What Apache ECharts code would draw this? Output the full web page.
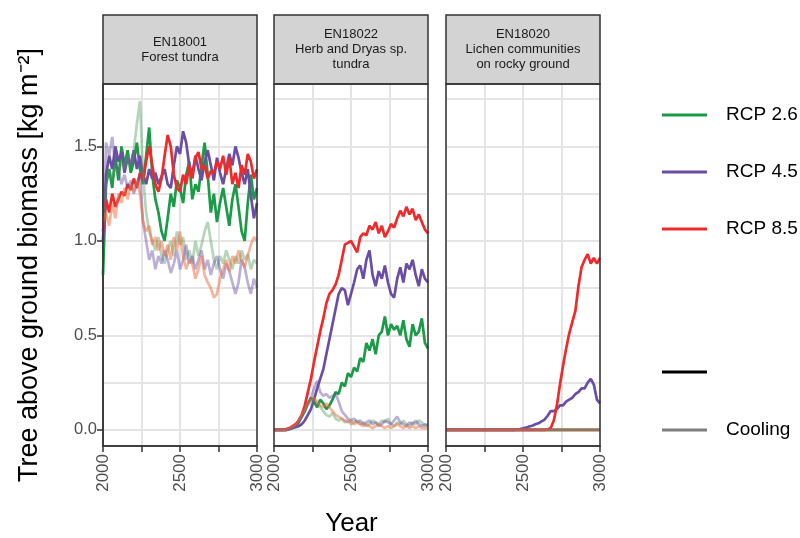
<!DOCTYPE html>
<html>
<head>
<meta charset="utf-8">
<script src="https://cdn.jsdelivr.net/npm/echarts@6/dist/echarts.min.js"></script>
<style>
  html, body { margin: 0; padding: 0; background: #ffffff; }
  #chart { width: 800px; height: 538px; }
</style>
</head>
<body>
<div id="chart"></div>
<script>
// Simulation years (20-year steps)
const years = [2000, 2020, 2040, 2060, 2080, 2100, 2120, 2140, 2160, 2180,
  2200, 2220, 2240, 2260, 2280, 2300, 2320, 2340, 2360, 2380,
  2400, 2420, 2440, 2460, 2480, 2500, 2520, 2540, 2560, 2580,
  2600, 2620, 2640, 2660, 2680, 2700, 2720, 2740, 2760, 2780,
  2800, 2820, 2840, 2860, 2880, 2900, 2920, 2940, 2960, 2980, 3000];

const scenarios = ['RCP 2.6', 'RCP 4.5', 'RCP 8.5'];
const linetypeLabels = ['', 'Cooling'];
const xTickLabels = [2000, 2500, 3000];
const yTickLabels = [0, 0.5, 1.0, 1.5];
const yGridValues = [0, 0.25, 0.5, 0.75, 1.0, 1.25, 1.5, 1.75];

const panelCodes = ['EN18001', 'EN18022', 'EN18020'];
const panelNames = ['Forest tundra', 'Herb and Dryas sp.\ntundra', 'Lichen communities\non rocky ground'];

// EN18001 Forest tundra
const forestRcp26 = [0.82, 1.30, 1.38, 1.28, 1.45, 1.32, 1.50, 1.40, 1.48, 1.36,
  1.42, 1.52, 1.38, 1.30, 1.45, 1.60, 1.35, 1.22, 1.15, 1.05,
  1.00, 1.12, 1.25, 1.18, 1.32, 1.28, 1.20, 1.35, 1.42, 1.22,
  1.30, 1.26, 1.40, 1.52, 1.35, 1.15, 1.25, 1.10, 1.20, 1.28,
  1.18, 1.08, 1.22, 1.30, 1.18, 1.05, 1.00, 1.20, 1.35, 1.22, 1.28];
const forestRcp45 = [1.00, 1.35, 1.45, 1.38, 1.50, 1.42, 1.47, 1.36, 1.44, 1.40,
  1.48, 1.38, 1.45, 1.35, 1.30, 1.38, 1.33, 1.36, 1.30, 1.34,
  1.38, 1.30, 1.28, 1.40, 1.50, 1.46, 1.58, 1.52, 1.40, 1.35,
  1.45, 1.38, 1.32, 1.42, 1.48, 1.40, 1.32, 1.44, 1.36, 1.30,
  1.38, 1.46, 1.40, 1.50, 1.44, 1.36, 1.30, 1.38, 1.24, 1.12, 1.20];
const forestRcp85 = [1.05, 1.22, 1.15, 1.25, 1.18, 1.22, 1.26, 1.24, 1.30, 1.27,
  1.33, 1.28, 1.36, 1.32, 1.42, 1.50, 1.40, 1.30, 1.26, 1.33,
  1.45, 1.56, 1.50, 1.35, 1.28, 1.26, 1.35, 1.30, 1.40, 1.33,
  1.44, 1.47, 1.38, 1.40, 1.33, 1.37, 1.36, 1.42, 1.38, 1.45,
  1.35, 1.44, 1.30, 1.36, 1.28, 1.40, 1.35, 1.46, 1.42, 1.33, 1.38];
const forestCool26 = [1.10, 1.30, 1.38, 1.32, 1.40, 1.35, 1.42, 1.38, 1.45, 1.40,
  1.48, 1.62, 1.74, 1.35, 1.15, 1.05, 1.00, 0.95, 1.02, 0.92,
  0.88, 0.95, 1.00, 0.92, 1.05, 0.98, 1.02, 0.90, 0.95, 0.88,
  1.00, 0.92, 0.98, 1.05, 1.10, 1.00, 0.90, 0.85, 0.92, 0.88,
  0.95, 0.90, 0.85, 0.92, 0.88, 0.95, 0.90, 0.93, 0.85, 0.90, 0.88];
const forestCool45 = [1.00, 1.52, 1.45, 1.55, 1.40, 1.38, 1.30, 1.35, 1.28, 1.32,
  1.25, 1.30, 1.35, 1.10, 1.00, 0.90, 0.95, 0.85, 0.92, 0.88,
  0.95, 0.90, 0.83, 0.88, 0.95, 0.85, 0.90, 0.98, 0.88, 0.92,
  0.85, 0.90, 0.95, 0.85, 0.90, 0.82, 0.88, 0.92, 0.85, 0.80,
  0.88, 0.84, 0.78, 0.72, 0.78, 0.90, 0.86, 0.78, 0.72, 0.80, 0.75];
const forestCool85 = [1.10, 1.15, 1.08, 1.20, 1.12, 1.25, 1.20, 1.28, 1.22, 1.30,
  1.26, 1.32, 1.25, 1.10, 1.05, 1.08, 0.98, 1.02, 0.95, 1.00,
  0.92, 0.98, 0.90, 1.02, 0.95, 1.05, 0.92, 0.85, 0.90, 0.88,
  0.80, 0.85, 0.92, 0.82, 0.78, 0.75, 0.70, 0.72, 0.80, 0.85,
  0.90, 0.84, 0.92, 0.88, 0.95, 0.90, 0.86, 0.92, 0.98, 1.02, 1.00];

// EN18022 Herb and Dryas sp. tundra
const herbRcp26 = [0, 0, 0, 0, 0, 0.005, 0.01, 0.02, 0.04, 0.07,
  0.10, 0.14, 0.17, 0.15, 0.12, 0.16, 0.14, 0.11, 0.13, 0.16,
  0.20, 0.19, 0.25, 0.23, 0.30, 0.28, 0.33, 0.31, 0.38, 0.36,
  0.46, 0.42, 0.48, 0.40, 0.50, 0.52, 0.60, 0.50, 0.56, 0.53,
  0.55, 0.50, 0.58, 0.48, 0.44, 0.56, 0.50, 0.52, 0.59, 0.46, 0.43];
const herbRcp45 = [0, 0, 0, 0, 0, 0.005, 0.01, 0.015, 0.02, 0.03,
  0.05, 0.08, 0.11, 0.16, 0.22, 0.27, 0.32, 0.40, 0.48, 0.56,
  0.64, 0.72, 0.75, 0.74, 0.66, 0.72, 0.78, 0.85, 0.87, 0.80,
  0.90, 0.95, 0.82, 0.76, 0.84, 0.80, 0.87, 0.78, 0.72, 0.70,
  0.80, 0.86, 0.78, 0.88, 0.85, 0.90, 0.82, 0.76, 0.85, 0.80, 0.78];
const herbRcp85 = [0, 0, 0, 0, 0.005, 0.01, 0.02, 0.03, 0.05, 0.08,
  0.13, 0.20, 0.27, 0.36, 0.44, 0.52, 0.59, 0.67, 0.72, 0.74,
  0.77, 0.82, 0.90, 0.98, 0.99, 1.00, 0.97, 0.94, 1.02, 1.04,
  1.03, 1.08, 1.06, 1.10, 1.04, 1.08, 1.02, 1.05, 1.09, 1.07,
  1.12, 1.16, 1.13, 1.18, 1.14, 1.17, 1.11, 1.14, 1.10, 1.06, 1.04];
const herbCool26 = [0, 0, 0, 0, 0, 0.005, 0.01, 0.02, 0.04, 0.07,
  0.10, 0.13, 0.15, 0.16, 0.14, 0.12, 0.10, 0.08, 0.07, 0.09,
  0.06, 0.05, 0.06, 0.04, 0.05, 0.03, 0.04, 0.05, 0.03, 0.04,
  0.02, 0.03, 0.05, 0.04, 0.03, 0.05, 0.04, 0.06, 0.03, 0.02,
  0.04, 0.03, 0.05, 0.03, 0.02, 0.04, 0.03, 0.05, 0.04, 0.02, 0.03];
const herbCool45 = [0, 0, 0, 0, 0, 0.005, 0.01, 0.02, 0.04, 0.07,
  0.11, 0.14, 0.17, 0.22, 0.26, 0.20, 0.18, 0.19, 0.17, 0.18,
  0.19, 0.15, 0.10, 0.08, 0.06, 0.05, 0.06, 0.04, 0.05, 0.03,
  0.04, 0.05, 0.03, 0.04, 0.02, 0.03, 0.05, 0.04, 0.03, 0.05,
  0.07, 0.04, 0.03, 0.02, 0.04, 0.03, 0.05, 0.03, 0.02, 0.03, 0.02];
const herbCool85 = [0, 0, 0, 0, 0, 0.01, 0.02, 0.03, 0.05, 0.08,
  0.11, 0.14, 0.16, 0.17, 0.15, 0.13, 0.12, 0.14, 0.12, 0.10,
  0.08, 0.07, 0.06, 0.05, 0.04, 0.05, 0.03, 0.04, 0.03, 0.02,
  0.03, 0.02, 0.01, 0.02, 0.03, 0.02, 0.01, 0.02, 0.01, 0.02,
  0.03, 0.02, 0.01, 0.02, 0.01, 0.02, 0.01, 0.02, 0.01, 0.01, 0.01];

// EN18020 Lichen communities on rocky ground
const lichenRcp26 = [0, 0, 0, 0, 0, 0, 0, 0, 0, 0,
  0, 0, 0, 0, 0, 0, 0, 0, 0, 0,
  0, 0, 0, 0, 0, 0, 0, 0, 0, 0,
  0, 0, 0, 0, 0, 0, 0, 0, 0, 0,
  0, 0, 0, 0, 0, 0, 0, 0, 0, 0, 0];
const lichenRcp45 = [0, 0, 0, 0, 0, 0, 0, 0, 0, 0,
  0, 0, 0, 0, 0, 0, 0, 0, 0, 0,
  0, 0, 0, 0.003, 0.005, 0.008, 0.012, 0.018, 0.022, 0.03,
  0.035, 0.045, 0.055, 0.075, 0.10, 0.10, 0.11, 0.13, 0.13, 0.15,
  0.16, 0.17, 0.19, 0.20, 0.22, 0.22, 0.25, 0.27, 0.24, 0.16, 0.14];
const lichenRcp85 = [0, 0, 0, 0, 0, 0, 0, 0, 0, 0,
  0, 0, 0, 0, 0, 0, 0, 0, 0, 0,
  0, 0, 0, 0, 0, 0, 0, 0, 0, 0,
  0, 0, 0, 0.002, 0.01, 0.05, 0.13, 0.24, 0.34, 0.43,
  0.51, 0.57, 0.63, 0.76, 0.86, 0.90, 0.93, 0.88, 0.91, 0.88, 0.91];
const lichenCool26 = [0, 0, 0, 0, 0, 0, 0, 0, 0, 0,
  0, 0, 0, 0, 0, 0, 0, 0, 0, 0,
  0, 0, 0, 0, 0, 0, 0, 0, 0, 0,
  0, 0, 0, 0, 0, 0, 0, 0, 0, 0,
  0, 0, 0, 0, 0, 0, 0, 0, 0, 0, 0];
const lichenCool45 = [0, 0, 0, 0, 0, 0, 0, 0, 0, 0,
  0, 0, 0, 0, 0, 0, 0, 0, 0, 0,
  0, 0, 0, 0, 0, 0, 0, 0, 0, 0,
  0, 0, 0, 0, 0, 0, 0, 0, 0, 0,
  0, 0, 0, 0, 0, 0, 0, 0, 0, 0, 0];
const lichenCool85 = [0, 0, 0, 0, 0, 0, 0, 0, 0, 0,
  0, 0, 0, 0, 0, 0, 0, 0, 0, 0,
  0, 0, 0, 0, 0, 0, 0, 0, 0, 0,
  0, 0, 0, 0, 0, 0, 0, 0, 0, 0,
  0, 0, 0, 0, 0, 0, 0, 0, 0, 0, 0];

const panelSeries = [
  { warm: [forestRcp26, forestRcp45, forestRcp85], cool: [forestCool26, forestCool45, forestCool85] },
  { warm: [herbRcp26, herbRcp45, herbRcp85], cool: [herbCool26, herbCool45, herbCool85] },
  { warm: [lichenRcp26, lichenRcp45, lichenRcp85], cool: [lichenCool26, lichenCool45, lichenCool85] }
];

// Styling
const FONT = 'Liberation Sans, Arial, Helvetica, sans-serif';
const scenarioColors = ['#1b9a47', '#6a4ea3', '#ee2b2b'];
const coolColors = ['#4f9a5c', '#6a4ea3', '#ef6a3c'];
const coolOpacity = [0.42, 0.45, 0.5];
const Y_MIN = -0.085, Y_MAX = 1.83;
const panelLeft = [103, 274, 446];
const PANEL_W = 154, PANEL_TOP = 84, PANEL_H = 362;
const STRIP_TOP = 15, STRIP_H = 69;

const grids = [], xAxes = [], yAxes = [], series = [], graphics = [];

panelLeft.forEach((left, p) => {
  grids.push({ left: left, top: PANEL_TOP, width: PANEL_W, height: PANEL_H, show: false });
  xAxes.push({
    type: 'value', gridIndex: p, min: 2000, max: 3000, interval: 250, position: 'bottom',
    axisLine: { show: true, onZero: false, lineStyle: { color: '#333333', width: 1.5 } },
    axisTick: { show: true, inside: false, length: 6, lineStyle: { color: '#333333', width: 1.5 } },
    axisLabel: {
      rotate: 90, margin: 8, color: '#4d4d4d', fontSize: 17, fontFamily: FONT,
      showMinLabel: true, showMaxLabel: true,
      formatter: v => (xTickLabels.indexOf(v) >= 0 ? String(v) : '')
    },
    splitLine: { show: true, lineStyle: { color: '#e4e4e4', width: 2 } }
  });
  yAxes.push({
    type: 'value', gridIndex: p, min: Y_MIN, max: Y_MAX,
    axisLine: { show: false },
    axisTick: { show: false, customValues: yGridValues },
    axisLabel: { show: false },
    splitLine: { show: true, lineStyle: { color: '#e4e4e4', width: 2 } }
  });
});

// Tick marks and labels on the left of the first panel
yAxes.push({
  type: 'value', gridIndex: 0, min: Y_MIN, max: Y_MAX, position: 'left',
  axisLine: { show: true, onZero: false, lineStyle: { color: '#333333', width: 1.5 } },
  axisTick: { show: true, length: 6, customValues: yTickLabels, lineStyle: { color: '#333333', width: 1.5 } },
  axisLabel: {
    show: true, customValues: yTickLabels, margin: 6, color: '#4d4d4d', fontSize: 16.5, fontFamily: FONT,
    formatter: v => v.toFixed(1)
  },
  splitLine: { show: false }
});

panelSeries.forEach((ps, p) => {
  ps.warm.forEach((vals, s) => {
    series.push({
      name: scenarios[s], type: 'line', xAxisIndex: p, yAxisIndex: p,
      data: years.map((yr, i) => [yr, vals[i]]),
      showSymbol: false, symbol: 'none', clip: true, z: 3,
      lineStyle: { color: scenarioColors[s], width: 2.7 },
      emphasis: { disabled: true }, silent: true
    });
  });
  ps.cool.forEach((vals, s) => {
    series.push({
      name: scenarios[s] + ' ' + linetypeLabels[1], type: 'line', xAxisIndex: p, yAxisIndex: p,
      data: years.map((yr, i) => [yr, vals[i]]),
      showSymbol: false, symbol: 'none', clip: true, z: 4,
      lineStyle: { color: coolColors[s], width: 2.7, opacity: coolOpacity[s] },
      emphasis: { disabled: true }, silent: true
    });
  });

  // facet strip and panel frame
  const left = panelLeft[p];
  graphics.push({
    type: 'rect', z: 100,
    shape: { x: left, y: STRIP_TOP, width: PANEL_W, height: STRIP_H },
    style: { fill: '#d3d3d3', stroke: '#333333', lineWidth: 1.5 }
  });
  graphics.push({
    type: 'text', z: 101,
    style: {
      x: left + PANEL_W / 2, y: STRIP_TOP + STRIP_H / 2,
      text: panelCodes[p] + '\n' + panelNames[p],
      align: 'center', verticalAlign: 'middle',
      font: '13px ' + FONT, fill: '#1a1a1a', lineHeight: 15
    }
  });
  graphics.push({
    type: 'rect', z: 100,
    shape: { x: left, y: PANEL_TOP, width: PANEL_W, height: PANEL_H },
    style: { fill: 'none', stroke: '#333333', lineWidth: 1.5 }
  });
});

// Axis titles
graphics.push({
  type: 'text', z: 100, rotation: Math.PI / 2, x: 30, y: PANEL_TOP + PANEL_H / 2,
  style: {
    text: 'Tree above ground biomass [kg m\u207B\u00B2]', align: 'center', verticalAlign: 'middle',
    font: '27px ' + FONT, fill: '#000000'
  }
});
graphics.push({
  type: 'text', z: 100, x: (panelLeft[0] + panelLeft[2] + PANEL_W) / 2, y: 524,
  style: { text: 'Year', align: 'center', verticalAlign: 'middle', font: '26px ' + FONT, fill: '#000000' }
});

// Legend: colour key for scenarios, then line type key
const legendRows = [
  { y: 115, color: scenarioColors[0], label: scenarios[0] },
  { y: 172, color: scenarioColors[1], label: scenarios[1] },
  { y: 229, color: scenarioColors[2], label: scenarios[2] },
  { y: 372, color: '#000000', label: linetypeLabels[0] },
  { y: 430, color: '#7f7f7f', label: linetypeLabels[1] }
];
legendRows.forEach(r => {
  graphics.push({
    type: 'line', z: 100,
    shape: { x1: 662, y1: r.y, x2: 707, y2: r.y },
    style: { stroke: r.color, lineWidth: 3 }
  });
  graphics.push({
    type: 'text', z: 100, x: 726, y: r.y,
    style: { text: r.label, align: 'left', verticalAlign: 'middle', font: '19px ' + FONT, fill: '#000000' }
  });
});

const chart = echarts.init(document.getElementById('chart'), null, { renderer: 'canvas' });
chart.setOption({
  animation: false,
  backgroundColor: '#ffffff',
  grid: grids,
  xAxis: xAxes,
  yAxis: yAxes,
  series: series,
  graphic: graphics
});
</script>
</body>
</html>
